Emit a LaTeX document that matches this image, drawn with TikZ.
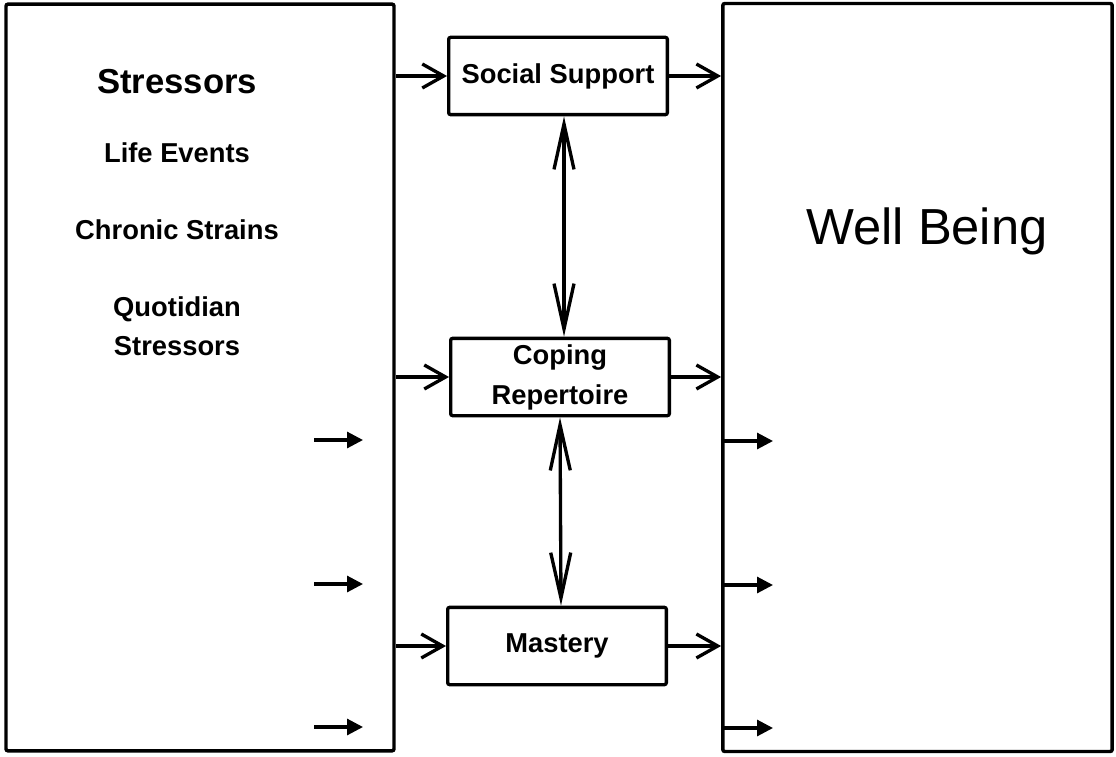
\documentclass[tikz,border=0pt]{standalone}
\usepackage{fontspec}
\setmainfont{Liberation Sans}
\usetikzlibrary{arrows.meta}
\begin{document}
\begin{tikzpicture}[x=0.75pt,y=-0.75pt,
  frame/.style={draw,line width=2.6pt,rounded corners=1.5pt,inner sep=0pt},
  midbox/.style={draw,line width=2.5pt,rounded corners=1.5pt,minimum width=164pt,minimum height=58pt,inner sep=0pt,align=center,font=\bfseries\fontsize{20.5}{30}\selectfont},
  lbl/.style={font=\bfseries\fontsize{20.5}{29}\selectfont,align=center,inner sep=0pt},
  openarrow/.style={line width=2.5pt,-{Straight Barb[length=16pt,width=18pt,line width=2.5pt]}},
  dblarrow/.style={line width=2.5pt,{Straight Barb[length=34pt,width=15pt,line width=2.5pt]}-{Straight Barb[length=34pt,width=15pt,line width=2.5pt]}},
  smallarrow/.style={line width=2.3pt,-{Triangle[length=12pt,width=12pt]}}]
\useasboundingbox (0,0) rectangle (1116,756);
% big boxes
\node[frame,minimum width=291pt,minimum height=560pt] (L) at (200,377.5) {};
\node[frame,minimum width=292pt,minimum height=561pt] (R) at (917.5,377.5) {};
% left texts
\node[inner sep=0pt,font=\bfseries\fontsize{26}{30}\selectfont] (st) at (177,82) {Stressors};
\node[lbl] (le) at (177,153) {Life Events};
\node[lbl] (cs) at (177,230) {Chronic Strains};
\node[lbl] (qs) at (177,326) {Quotidian\\Stressors};
% right text
\node[inner sep=0pt,font=\fontsize{38}{42}\selectfont] (wb) at (927,231) {Well Being};
% middle boxes
\node[midbox] (SS) at (558,76) {Social Support};
\node[midbox] (CR) at (560,377) {Coping\\Repertoire};
\node[midbox] (MA) at (557,646) {Mastery};
% connectors
\draw[openarrow] (L.east |- SS) -- (SS.west);
\draw[openarrow] (SS.east) -- (R.west |- SS.east);
\draw[openarrow] (L.east |- CR) -- (CR.west);
\draw[openarrow] (CR.east) -- (R.west |- CR.east);
\draw[openarrow] (L.east |- MA) -- (MA.west);
\draw[openarrow] (MA.east) -- (R.west |- MA.east);
\draw[dblarrow] ([xshift=4.5pt]SS.south) -- ([xshift=3pt]CR.north);
\draw[dblarrow] (CR.south) -- ([xshift=3pt]MA.north);
% small arrows
\coordinate (la1) at (314,440); \coordinate (lb1) at (363,440);
\coordinate (la2) at (314,584); \coordinate (lb2) at (363,584);
\coordinate (la3) at (314,727); \coordinate (lb3) at (363,727);
\draw[smallarrow] (la1) -- (lb1);
\draw[smallarrow] (la2) -- (lb2);
\draw[smallarrow] (la3) -- (lb3);
\coordinate (rb1) at (773,441);
\coordinate (rb2) at (773,585);
\coordinate (rb3) at (773,728);
\draw[smallarrow] (R.west |- rb1) -- (rb1);
\draw[smallarrow] (R.west |- rb2) -- (rb2);
\draw[smallarrow] (R.west |- rb3) -- (rb3);
\end{tikzpicture}
\end{document}
